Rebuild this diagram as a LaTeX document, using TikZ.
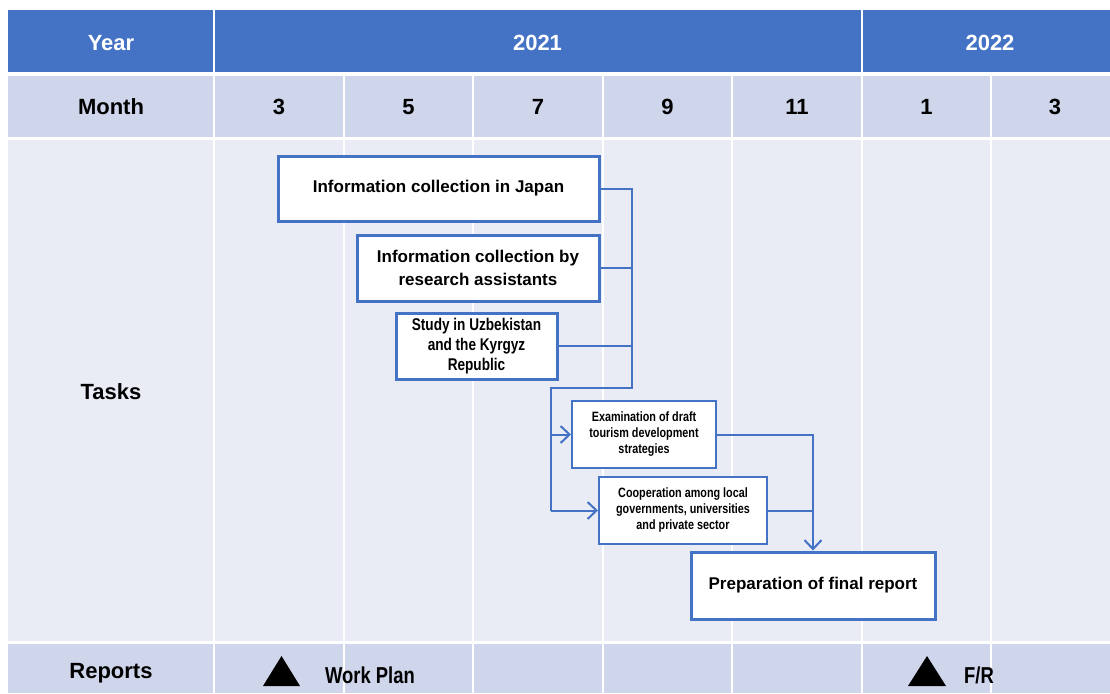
\documentclass[tikz,border=0pt]{standalone}
\usepackage{fontspec}
\setmainfont{Liberation Sans}
\newfontfamily\narrowfont[FakeStretch=0.8]{Liberation Sans}
\usetikzlibrary{positioning, arrows.meta}
\definecolor{headblue}{HTML}{4472C4}
\definecolor{monthgray}{HTML}{CFD5EA}
\definecolor{taskgray}{HTML}{E9EBF5}
\tikzstyle{headtxt} = [font=\fontsize{22}{26}\selectfont\bfseries]
\tikzstyle{task} = [draw=headblue, line width=3pt, fill=white, align=center, inner sep=0pt, font=\fontsize{17}{23}\selectfont\bfseries]
\tikzstyle{subtask} = [draw=headblue, line width=2pt, fill=white, align=center, inner sep=0pt, font=\narrowfont\fontsize{13.5}{16}\selectfont\bfseries]
\tikzstyle{link} = [draw=headblue, line width=2pt]
\tikzstyle{arrow} = [link, -{Straight Barb[length=9pt,width=17pt,line width=2pt]}]

\begin{document}
\begin{tikzpicture}[x=1pt, y=-1pt]
        \useasboundingbox (0,0) rectangle (1110,693);
        % table rows
        \fill[headblue] (8,10) rectangle (1110,72);
        \fill[monthgray] (8,76) rectangle (1110,137);
        \fill[taskgray] (8,139.5) rectangle (1110,641);
        \fill[monthgray] (8,644) rectangle (1110,693);
        \draw[white, line width=2pt] (214,10) -- (214,693) (861.5,10) -- (861.5,693)
            (343.5,76) -- (343.5,693) (473,76) -- (473,693) (603,76) -- (603,693)
            (732,76) -- (732,693) (991,76) -- (991,693);
        % header texts
        \node[headtxt, white] (year) at (111,43) {Year};
        \node[headtxt, white] (y2021) at (537.5,43) {2021};
        \node[headtxt, white] (y2022) at (990,43) {2022};
        \node[headtxt] (month) at (111,107) {Month};
        \node[headtxt] (m3) at (279,107) {3};
        \node[headtxt] (m5) at (408.5,107) {5};
        \node[headtxt] (m7) at (538,107) {7};
        \node[headtxt] (m9) at (667.5,107) {9};
        \node[headtxt] (m11) at (797,107) {11};
        \node[headtxt] (m1) at (926.5,107) {1};
        \node[headtxt] (m3b) at (1055,107) {3};
        \node[headtxt] (tasks) at (111,392) {Tasks};
        \node[headtxt] (reports) at (111,673) {Reports};
        % task boxes
        \node[task, minimum width=321pt, minimum height=65pt] (japan) at (438.5,188.5) {Information collection in Japan};
        \node[task, minimum width=242pt, minimum height=66pt] (ra) at (478,268) {Information collection by\\research assistants};
        \node[subtask, font=\narrowfont\fontsize{17}{20}\selectfont\bfseries, line width=3pt, minimum width=161pt, minimum height=66pt] (uzb) at (476.5,346) {Study in Uzbekistan\\and the Kyrgyz\\Republic};
        \node[subtask, minimum width=144pt, minimum height=67pt] (exam) at (644,434.5) {Examination of draft\\tourism development\\strategies};
        \node[subtask, minimum width=168pt, minimum height=67pt] (coop) at (683,510.5) {Cooperation among local\\governments, universities\\and private sector};
        \node[task, minimum width=244pt, minimum height=67pt] (final) at (813,585.5) {Preparation of final report};
        % connectors
        \coordinate (bus) at (632,388);
        \coordinate (split) at (551,388);
        \draw[link] (japan.east) -| (bus) -- (split) -- (split |- coop.west);
        \draw[link] (ra.east) -- (ra.east -| bus);
        \draw[link] (uzb.east) -- (uzb.east -| bus);
        \draw[arrow] (split |- exam.west) -- (exam.west);
        \draw[arrow] (split |- coop.west) -- (coop.west);
        \draw[arrow] (exam.east) -| (final.north);
        \draw[link] (coop.east) -- (coop.east -| final.north);
        % reports
        \fill (263,686) -- (281.5,656) -- (300,686) -- cycle;
        \node[font=\narrowfont\fontsize{23}{26}\selectfont\bfseries] (wp) at (370,675) {Work Plan};
        \fill (908,686) -- (927,656) -- (946,686) -- cycle;
        \node[font=\narrowfont\fontsize{23}{26}\selectfont\bfseries] (fr) at (979,675) {F/R};
\end{tikzpicture}
\end{document}
